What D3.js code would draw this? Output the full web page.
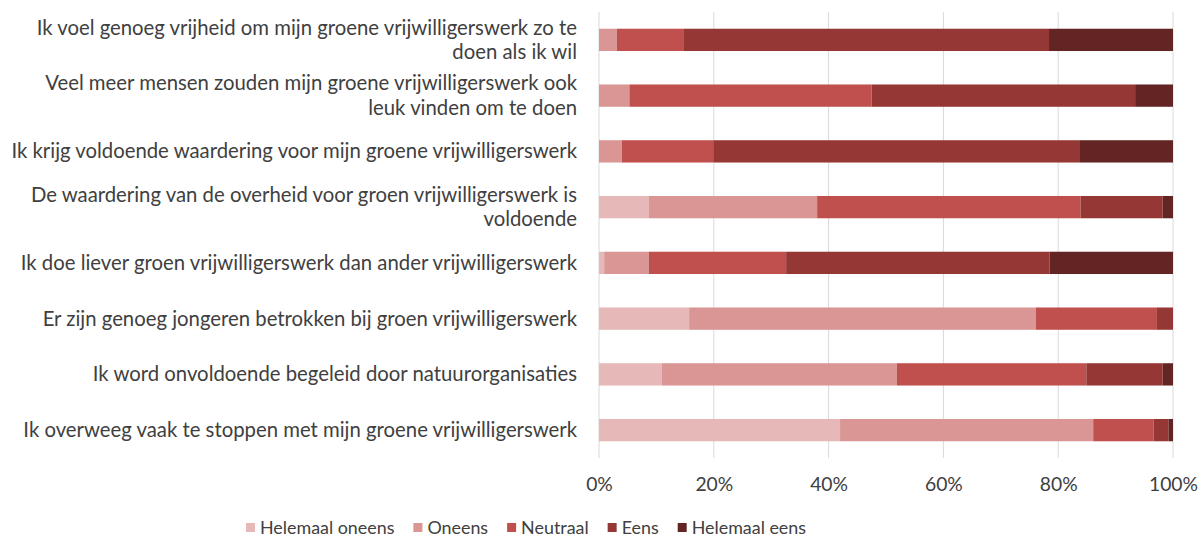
<!DOCTYPE html>
<html>
<head>
<meta charset="utf-8">
<script src="https://cdn.jsdelivr.net/npm/d3@7"></script>
<style>
  html, body { margin: 0; padding: 0; background: #fff; }
  svg { display: block; }
  text { font-family: Lato, "Open Sans", sans-serif; fill: #404040; }
</style>
</head>
<body>
<svg id="chart" width="1198" height="537"></svg>
<script>
// ---- Data ----
const categories = [
  "Ik voel genoeg vrijheid om mijn groene vrijwilligerswerk zo te\ndoen als ik wil",
  "Veel meer mensen zouden mijn groene vrijwilligerswerk ook\nleuk vinden om te doen",
  "Ik krijg voldoende waardering voor mijn groene vrijwilligerswerk",
  "De waardering van de overheid voor groen vrijwilligerswerk is\nvoldoende",
  "Ik doe liever groen vrijwilligerswerk dan ander vrijwilligerswerk",
  "Er zijn genoeg jongeren betrokken bij groen vrijwilligerswerk",
  "Ik word onvoldoende begeleid door natuurorganisaties",
  "Ik overweeg vaak te stoppen met mijn groene vrijwilligerswerk"
];
const seriesNames = ["Helemaal oneens", "Oneens", "Neutraal", "Eens", "Helemaal eens"];
const helemaalOneens = [0.0, 0.0, 0.0, 8.7, 0.9, 15.7, 10.9, 42.0];
const oneens         = [3.1, 5.3, 4.0, 29.3, 7.8, 60.4, 41.0, 44.1];
const neutraal       = [11.7, 42.2, 15.9, 45.9, 23.9, 21.1, 33.0, 10.5];
const eens           = [63.6, 45.9, 63.9, 14.3, 45.9, 2.8, 13.3, 2.6];
const helemaalEens   = [21.6, 6.6, 16.2, 1.8, 21.5, 0.0, 1.8, 0.8];
const xTicks = [0, 20, 40, 60, 80, 100];
const colors = ["#e6b9b8", "#d99694", "#c0504d", "#953735", "#632523"];

// ---- Build table ----
const seriesValues = [helemaalOneens, oneens, neutraal, eens, helemaalEens];
const table = categories.map((c, i) => {
  const row = { category: c };
  seriesNames.forEach((s, j) => { row[s] = seriesValues[j][i]; });
  return row;
});
const stacked = d3.stack().keys(seriesNames)(table);

const svg = d3.select("#chart");
const x = d3.scaleLinear().domain([0, 100]).range([599, 1173]);
const y = d3.scaleBand().domain(categories).range([12, 458]).paddingInner(0.6).paddingOuter(0.3);
const color = d3.scaleOrdinal().domain(seriesNames).range(colors);

function measure(str, size) {
  const p = svg.append("text").attr("font-size", size).text(str);
  const w = p.node().getComputedTextLength();
  p.remove();
  return w;
}
// font size fitted so the longest single-line label matches reference width
const fs = 100 * 554 / measure(categories[7], 100);
const tickFs = fs * 0.95;

// gridlines
svg.append("g").selectAll("line").data(xTicks).join("line")
  .attr("x1", d => x(d)).attr("x2", d => x(d))
  .attr("y1", 12).attr("y2", 458)
  .attr("stroke", "#d9d9d9").attr("stroke-width", 1);

// bars
svg.append("g").selectAll("g").data(stacked).join("g")
  .attr("fill", d => color(d.key))
  .selectAll("rect").data(d => d).join("rect")
  .attr("x", d => x(d[0]))
  .attr("width", d => Math.max(0, x(d[1]) - x(d[0])))
  .attr("y", d => y(d.data.category))
  .attr("height", y.bandwidth());

// x axis tick labels
const xAxis = d3.axisBottom(x).tickValues(xTicks).tickFormat(d => d + "%").tickSize(0).tickPadding(0);
const gx = svg.append("g").attr("transform", "translate(0,477)").call(xAxis);
gx.select(".domain").remove();
gx.selectAll("text").attr("font-size", tickFs).attr("font-family", "Lato, 'Open Sans', sans-serif").attr("fill", "#404040");

// y axis labels
const gy = svg.append("g");
categories.forEach(c => {
  const lines = c.split("\n");
  const cy = y(c) + y.bandwidth() / 2;
  const lh = 24.5;
  const t = gy.append("text")
    .attr("x", 577).attr("text-anchor", "end")
    .attr("font-size", fs);
  lines.forEach((ln, k) => {
    t.append("tspan").attr("x", 577)
      .attr("y", cy + (k - (lines.length - 1) / 2) * lh)
      .attr("dy", "0.35em").text(ln);
  });
});

// legend laid out by measured widths
const legFs = fs * 0.88;
const sq = 9, sqGap = 5, itemGap = 19;
const widths = seriesNames.map(s => measure(s, legFs));
const total = d3.sum(widths) + seriesNames.length * (sq + sqGap) + (seriesNames.length - 1) * itemGap;
let lx = 526 - total / 2;
const lg = svg.append("g");
seriesNames.forEach((s, i) => {
  lg.append("rect").attr("x", lx).attr("y", 523).attr("width", sq).attr("height", sq).attr("fill", color(s));
  lg.append("text").attr("x", lx + sq + sqGap).attr("y", 527.5).attr("dy", "0.35em")
    .attr("font-size", legFs).text(s);
  lx += sq + sqGap + widths[i] + itemGap;
});
</script>
</body>
</html>
